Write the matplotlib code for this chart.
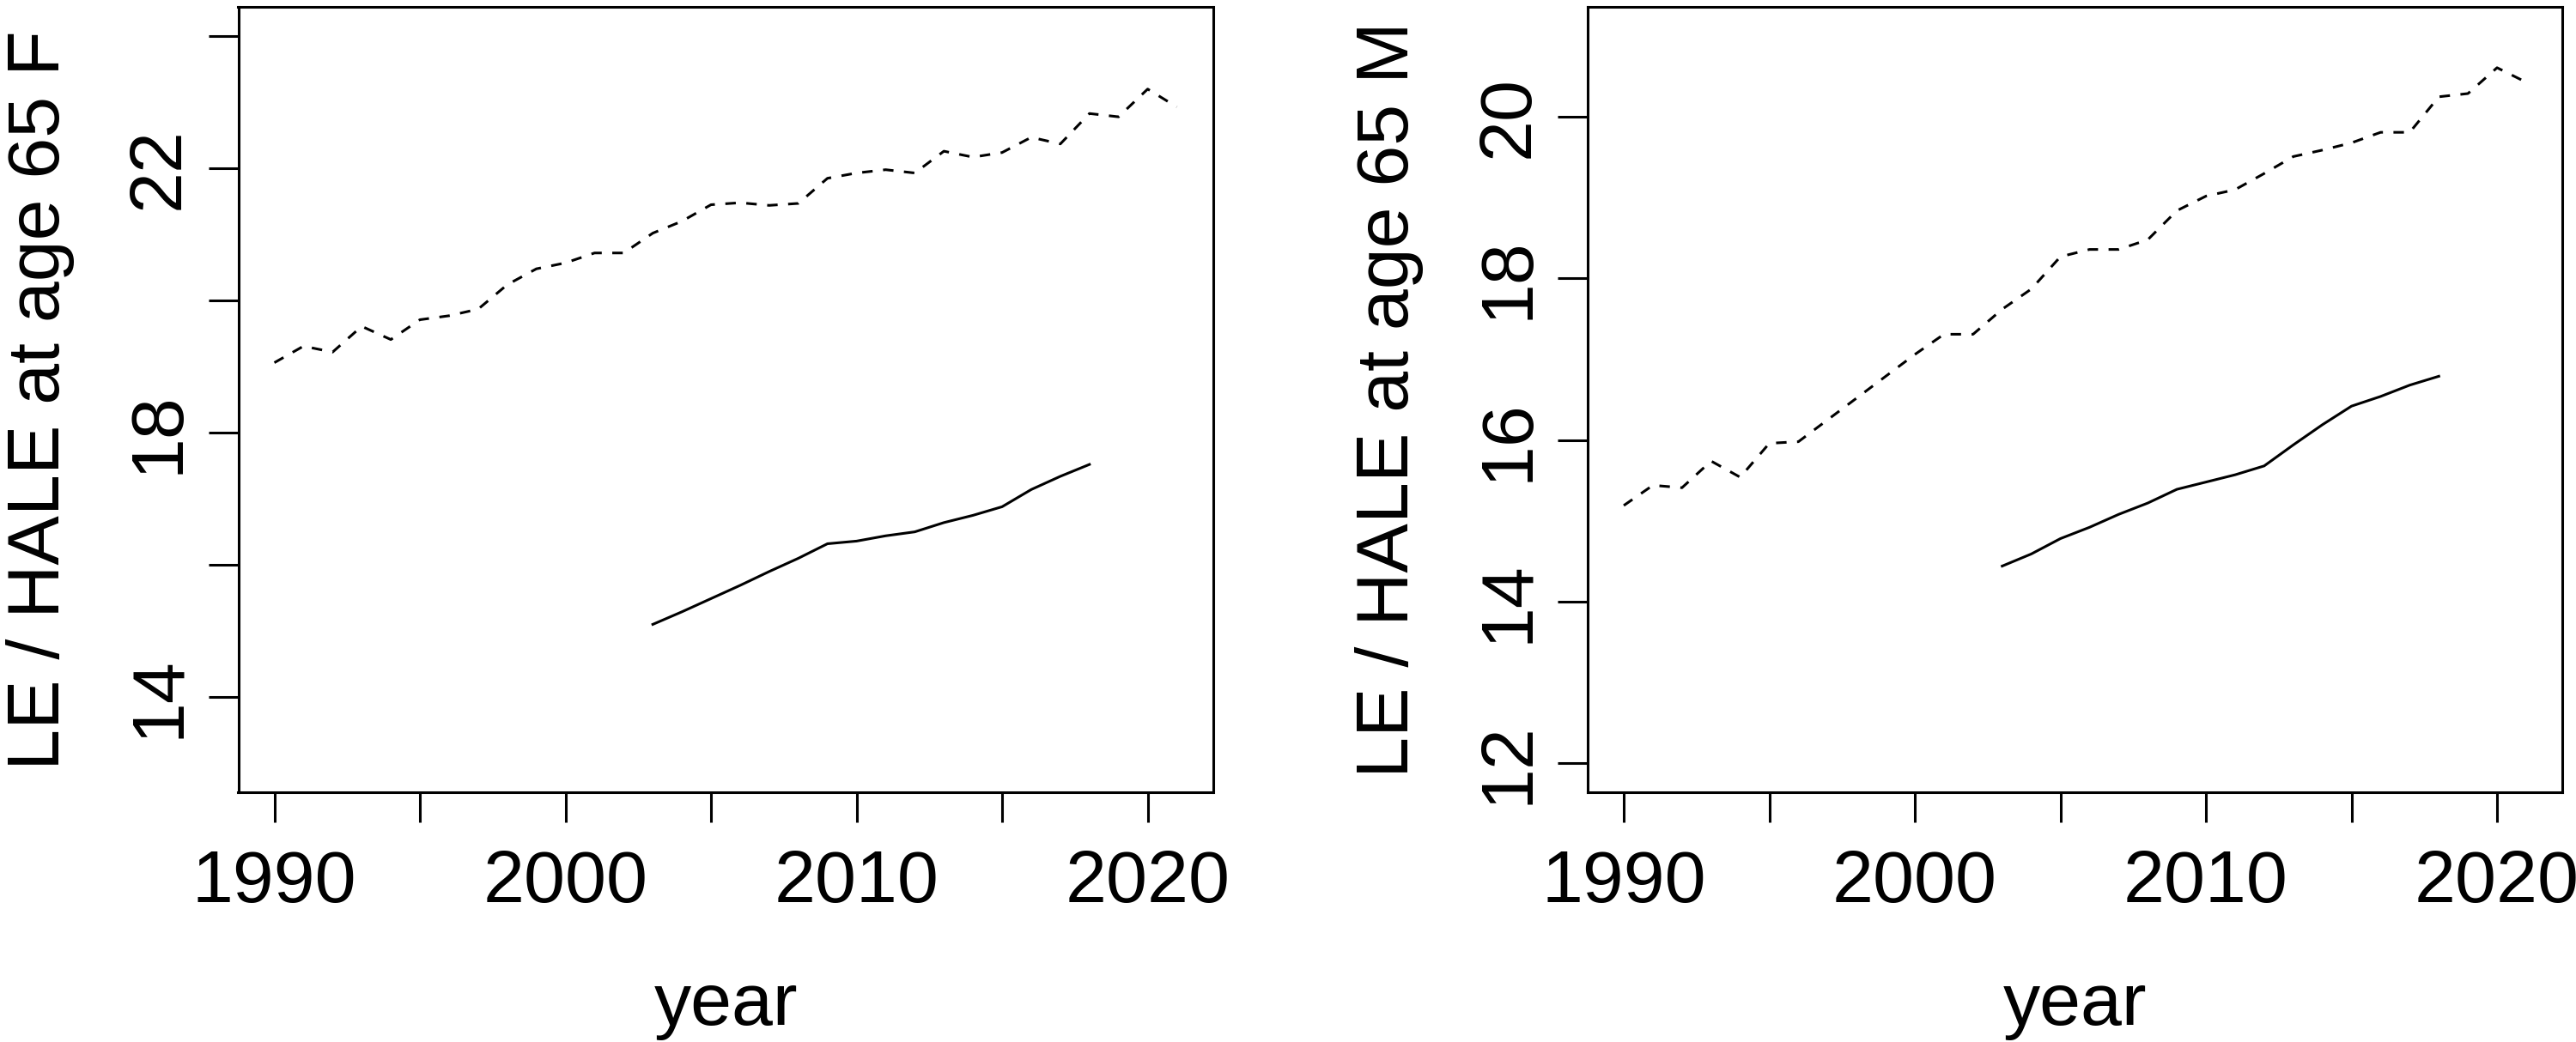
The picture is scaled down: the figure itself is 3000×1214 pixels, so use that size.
import matplotlib
matplotlib.use("Agg")
import matplotlib.pyplot as plt

plt.rcParams['font.family'] = ['Liberation Sans', 'DejaVu Sans']

years = list(range(1990, 2022))
le_female = [19.06, 19.31, 19.22, 19.61, 19.41, 19.71, 19.77, 19.87, 20.24, 20.48,
             20.57, 20.72, 20.72, 21.02, 21.20, 21.45, 21.48, 21.44, 21.47, 21.85,
             21.93, 21.98, 21.93, 22.26, 22.17, 22.24, 22.47, 22.37, 22.83, 22.78,
             23.20, 22.93]
le_male = [15.19, 15.44, 15.41, 15.74, 15.54, 15.96, 15.98, 16.25, 16.52, 16.79,
           17.06, 17.31, 17.31, 17.62, 17.87, 18.27, 18.36, 18.36, 18.48, 18.84,
           19.02, 19.10, 19.30, 19.51, 19.59, 19.68, 19.81, 19.81, 20.25, 20.29,
           20.61, 20.43]
hale_years = list(range(2003, 2019))
hale_female = [15.10, 15.29, 15.49, 15.69, 15.90, 16.10, 16.32, 16.36, 16.44, 16.50,
               16.64, 16.75, 16.88, 17.14, 17.34, 17.52]
hale_male = [14.44, 14.59, 14.78, 14.92, 15.08, 15.22, 15.39, 15.48, 15.57, 15.68,
             15.94, 16.19, 16.42, 16.54, 16.68, 16.79]

x_ticks = [1990, 1995, 2000, 2005, 2010, 2015, 2020]
x_ticklabels = ['1990', '', '2000', '', '2010', '', '2020']
yticks_f = [14, 16, 18, 20, 22, 24]
yticklabels_f = ['14', '', '18', '', '22', '']
yticks_m = [12, 14, 16, 18, 20]
yticklabels_m = ['12', '14', '16', '18', '20']
ylabel_f = 'LE / HALE at age 65 F'
ylabel_m = 'LE / HALE at age 65 M'
xlabel = 'year'

W, H = 3000, 1214
fig = plt.figure(figsize=(W / 100, H / 100), dpi=100)

FS = 62
LW = 2.2
TICKLEN = 25.2


def rect(x0, x1, ytop, ybot):
    return [x0 / W, 1 - ybot / H, (x1 - x0) / W, (ybot - ytop) / H]


def setup(ax, le, hale, ylim, yticks, yticklabels, ylabel):
    ax.plot(years, le, color='black', lw=LW, linestyle=(0, (4, 4)))
    ax.plot(hale_years, hale, color='black', lw=LW)
    pad = 0.04 * (years[-1] - years[0])
    ax.set_xlim(years[0] - pad, years[-1] + pad)
    ypad = 0.04 * (ylim[1] - ylim[0])
    ax.set_ylim(ylim[0] - ypad, ylim[1] + ypad)
    ax.set_xticks(x_ticks)
    ax.set_xticklabels(x_ticklabels)
    ax.set_yticks(yticks)
    ax.set_yticklabels(yticklabels, rotation=90, va='center')
    ax.tick_params(axis='both', direction='out', length=TICKLEN, width=LW,
                   labelsize=FS, color='black')
    ax.tick_params(axis='x', pad=22)
    ax.tick_params(axis='y', pad=12)
    for s in ax.spines.values():
        s.set_linewidth(LW)
        s.set_color('black')
    ax.set_xlabel(xlabel, fontsize=FS)
    ax.set_ylabel(ylabel, fontsize=FS)
    ax.xaxis.set_label_coords(0.5, -0.228)
    ax.yaxis.set_label_coords(-0.168, 0.5)


ax1 = fig.add_axes(rect(277.5, 1412.5, 8.3, 923))
setup(ax1, le_female, hale_female, (13, 24), yticks_f, yticklabels_f, ylabel_f)

ax2 = fig.add_axes(rect(1849, 2984, 8.3, 923))
setup(ax2, le_male, hale_male, (12, 21), yticks_m, yticklabels_m, ylabel_m)

fig.savefig('out.png', dpi=100, facecolor='white')
